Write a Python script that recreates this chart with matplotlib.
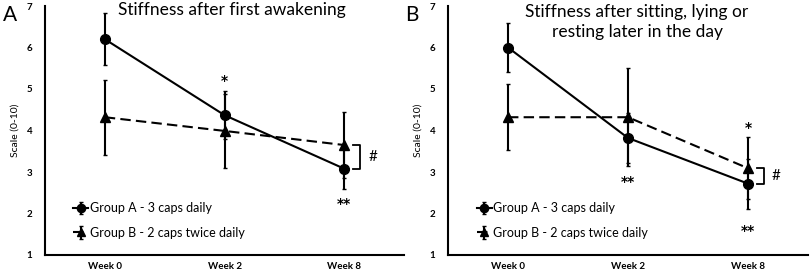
import matplotlib
matplotlib.use("Agg")
import matplotlib.pyplot as plt
import numpy as np

plt.rcParams['font.family'] = ['Lato', 'DejaVu Sans']

weeks = ["Week 0", "Week 2", "Week 8"]
legend_a = "Group A - 3 caps daily"
legend_b = "Group B - 2 caps twice daily"

# Panel A: Stiffness after first awakening
a_grpA = [6.2, 4.37, 3.08]
a_grpA_err = [0.62, 0.57, 0.5]
a_grpB = [4.32, 3.99, 3.65]
a_grpB_err = [0.9, 0.9, 0.8]

# Panel B: Stiffness after sitting, lying or resting later in the day
b_grpA = [6.0, 3.82, 2.72]
b_grpA_err = [0.6, 0.6, 0.6]
b_grpB = [4.32, 4.32, 3.09]
b_grpB_err = [0.8, 1.18, 0.75]

fig = plt.figure(figsize=(8.1, 2.74), dpi=100)
W, H = 810, 274

def make_ax(x0, x1):
    return fig.add_axes([x0 / W, (274 - 255) / H, (x1 - x0) / W, (255 - 6) / H])

axA = make_ax(45, 404)
axB = make_ax(448, 808)

def draw(ax, ga, gae, gb, gbe):
    x = np.arange(len(weeks))
    ax.errorbar(x, gb, yerr=gbe, color='black', lw=1.5, ls=(0, (5, 2.5)),
                marker='^', ms=6.5, capsize=1.5, elinewidth=1.5, label=legend_b, zorder=3)
    ax.errorbar(x, ga, yerr=gae, color='black', lw=1.5, ls='-',
                marker='o', ms=7, capsize=1.5, elinewidth=1.5, label=legend_a, zorder=4)
    ax.set_xlim(-0.5, 2.5)
    ax.set_ylim(1, 7)
    ax.set_xticks(x)
    ax.set_xticklabels(weeks, fontsize=7, fontweight='bold')
    ax.set_yticks(range(1, 8))
    ax.set_yticklabels([str(v) for v in range(1, 8)], fontsize=7, fontweight='bold')
    ax.tick_params(length=0)
    ax.tick_params(axis='x', pad=5)
    ax.tick_params(axis='y', pad=9)
    for s in ['top', 'right']:
        ax.spines[s].set_visible(False)
    for s in ['left', 'bottom']:
        ax.spines[s].set_linewidth(1.5)
    ax.set_ylabel("Scale (0-10)", fontsize=7.5, labelpad=5)
    h, l = ax.get_legend_handles_labels()
    ax.legend(h[::-1], l[::-1], loc='lower left', bbox_to_anchor=(0.055, 0.03),
              frameon=False, fontsize=9, handlelength=1.2, handletextpad=0.15,
              labelspacing=1.0, borderpad=0.2, markerscale=0.85)

draw(axA, a_grpA, a_grpA_err, a_grpB, a_grpB_err)
draw(axB, b_grpA, b_grpA_err, b_grpB, b_grpB_err)

def bracket(ax, y_lo, y_hi):
    ax.plot([2.075, 2.13, 2.13, 2.075], [y_hi, y_hi, y_lo, y_lo], color='black', lw=1.3)
    ax.text(2.2, (y_lo + y_hi) / 2, "#", fontsize=11, va='center', ha='left')

def star(ax, x, y, s):
    ax.text(x, y, s, fontsize=10, ha='center', va='center', fontweight='bold',
            family='DejaVu Sans')

# Annotations panel A
star(axA, 1, 5.2, "*")
star(axA, 2, 2.22, "**")
bracket(axA, a_grpA[2], a_grpB[2])
# Annotations panel B
star(axB, 1, 2.77, "**")
star(axB, 2, 4.05, "*")
star(axB, 2, 1.58, "**")
bracket(axB, b_grpA[2], b_grpB[2])

fig.text(232 / W, 1 - 10 / H, "Stiffness after first awakening", fontsize=12.5,
         ha='center', va='center')
fig.text(637 / W, 1 - 22 / H, "Stiffness after sitting, lying or\nresting later in the day",
         fontsize=12.5, ha='center', va='center', linespacing=1.3)
fig.text(3 / W, 1 - 15 / H, "A", fontsize=15, ha='left', va='center')
fig.text(405 / W, 1 - 15 / H, "B", fontsize=15, ha='left', va='center')

fig.savefig("out.png", dpi=100)
